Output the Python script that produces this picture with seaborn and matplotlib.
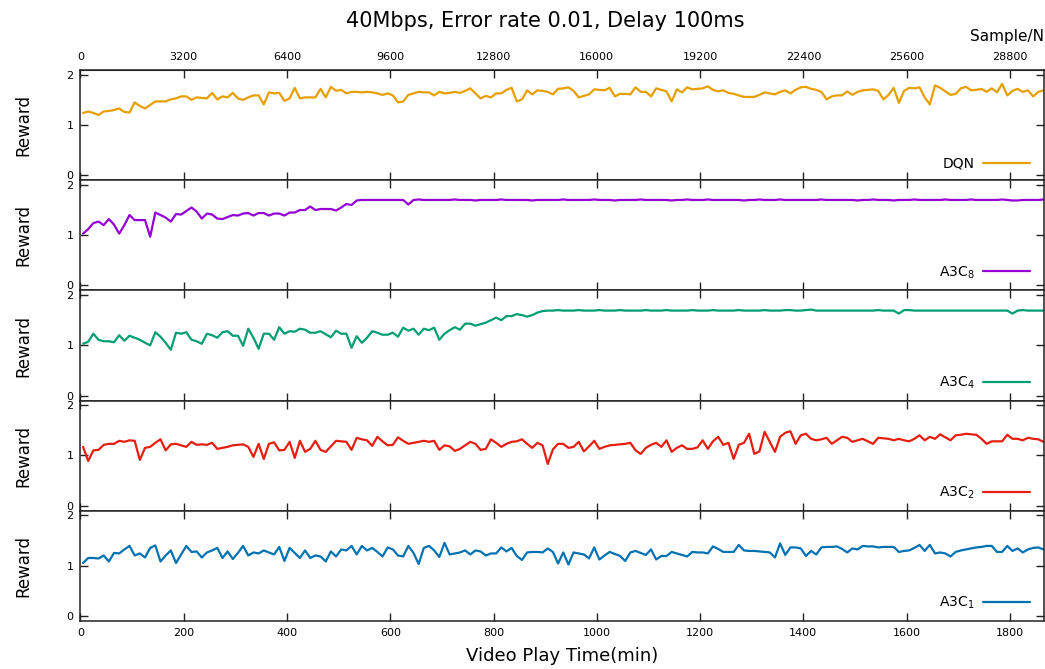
import numpy as np
import pandas as pd
import matplotlib
matplotlib.use("Agg")
import matplotlib.pyplot as plt
import seaborn as sns

# time axis (min), one sample every 10 min
minutes = np.arange(5, 1870, 10)

dqn = [
    1.24, 1.27, 1.24, 1.20, 1.27, 1.28, 1.30, 1.33, 1.26, 1.25,
    1.45, 1.38, 1.33, 1.40, 1.47, 1.47, 1.47, 1.51, 1.53, 1.57,
    1.57, 1.50, 1.55, 1.54, 1.53, 1.64, 1.51, 1.57, 1.55, 1.64,
    1.53, 1.50, 1.55, 1.59, 1.59, 1.41, 1.65, 1.63, 1.64, 1.48,
    1.53, 1.74, 1.53, 1.55, 1.55, 1.55, 1.72, 1.55, 1.76, 1.68,
    1.70, 1.63, 1.66, 1.66, 1.65, 1.66, 1.65, 1.63, 1.60, 1.63,
    1.59, 1.45, 1.47, 1.60, 1.63, 1.66, 1.65, 1.65, 1.59, 1.66,
    1.63, 1.64, 1.66, 1.64, 1.68, 1.73, 1.63, 1.53, 1.58, 1.55,
    1.63, 1.63, 1.70, 1.74, 1.47, 1.51, 1.69, 1.61, 1.69, 1.68,
    1.66, 1.61, 1.72, 1.73, 1.75, 1.68, 1.55, 1.58, 1.61, 1.71,
    1.70, 1.69, 1.74, 1.57, 1.62, 1.62, 1.61, 1.75, 1.66, 1.66,
    1.57, 1.73, 1.70, 1.67, 1.47, 1.71, 1.65, 1.75, 1.71, 1.72,
    1.73, 1.77, 1.70, 1.67, 1.69, 1.64, 1.62, 1.59, 1.56, 1.56,
    1.56, 1.60, 1.65, 1.63, 1.61, 1.66, 1.69, 1.63, 1.70, 1.75,
    1.76, 1.72, 1.70, 1.66, 1.51, 1.57, 1.59, 1.59, 1.67, 1.60,
    1.66, 1.69, 1.70, 1.71, 1.68, 1.51, 1.60, 1.74, 1.44, 1.68,
    1.74, 1.73, 1.75, 1.55, 1.41, 1.79, 1.74, 1.67, 1.60, 1.62,
    1.73, 1.76, 1.69, 1.70, 1.72, 1.66, 1.73, 1.65, 1.82, 1.59,
    1.68, 1.72, 1.66, 1.69, 1.57, 1.66, 1.69,
]

a3c8 = [
    1.03, 1.12, 1.24, 1.27, 1.20, 1.32, 1.21, 1.03, 1.20, 1.40,
    1.30, 1.30, 1.30, 0.97, 1.45, 1.40, 1.35, 1.27, 1.42, 1.41,
    1.48, 1.55, 1.47, 1.33, 1.43, 1.41, 1.33, 1.32, 1.36, 1.40,
    1.39, 1.43, 1.44, 1.39, 1.44, 1.44, 1.39, 1.43, 1.43, 1.39,
    1.45, 1.45, 1.50, 1.50, 1.57, 1.50, 1.52, 1.52, 1.52, 1.49,
    1.55, 1.62, 1.60, 1.69, 1.70, 1.70, 1.70, 1.70, 1.70, 1.70,
    1.70, 1.70, 1.70, 1.61, 1.70, 1.71, 1.70, 1.70, 1.70, 1.70,
    1.70, 1.70, 1.71, 1.70, 1.70, 1.70, 1.69, 1.70, 1.70, 1.70,
    1.70, 1.71, 1.70, 1.70, 1.70, 1.70, 1.70, 1.69, 1.70, 1.70,
    1.70, 1.70, 1.70, 1.71, 1.70, 1.70, 1.70, 1.70, 1.70, 1.71,
    1.70, 1.70, 1.70, 1.69, 1.70, 1.70, 1.70, 1.70, 1.71, 1.70,
    1.70, 1.70, 1.70, 1.70, 1.69, 1.70, 1.70, 1.71, 1.70, 1.70,
    1.70, 1.71, 1.70, 1.70, 1.70, 1.70, 1.70, 1.70, 1.69, 1.70,
    1.70, 1.71, 1.70, 1.70, 1.70, 1.71, 1.70, 1.70, 1.70, 1.70,
    1.70, 1.70, 1.70, 1.71, 1.70, 1.70, 1.70, 1.70, 1.70, 1.70,
    1.69, 1.70, 1.70, 1.71, 1.70, 1.70, 1.70, 1.69, 1.70, 1.70,
    1.70, 1.71, 1.70, 1.70, 1.70, 1.70, 1.70, 1.71, 1.70, 1.70,
    1.70, 1.70, 1.71, 1.70, 1.70, 1.70, 1.70, 1.70, 1.71, 1.70,
    1.69, 1.69, 1.70, 1.70, 1.70, 1.70, 1.71,
]

a3c4 = [
    1.03, 1.07, 1.23, 1.11, 1.08, 1.08, 1.06, 1.20, 1.09, 1.19,
    1.15, 1.11, 1.05, 1.00, 1.26, 1.17, 1.05, 0.91, 1.25, 1.23,
    1.26, 1.11, 1.08, 1.03, 1.23, 1.20, 1.15, 1.26, 1.28, 1.19,
    1.19, 0.99, 1.33, 1.15, 0.93, 1.23, 1.23, 1.11, 1.36, 1.23,
    1.28, 1.27, 1.33, 1.31, 1.25, 1.25, 1.28, 1.22, 1.16, 1.29,
    1.23, 1.23, 0.95, 1.18, 1.05, 1.15, 1.28, 1.25, 1.21, 1.21,
    1.25, 1.17, 1.35, 1.29, 1.33, 1.21, 1.33, 1.30, 1.35, 1.11,
    1.23, 1.30, 1.36, 1.31, 1.43, 1.43, 1.39, 1.42, 1.45, 1.50,
    1.55, 1.50, 1.58, 1.58, 1.62, 1.60, 1.57, 1.60, 1.65, 1.68,
    1.69, 1.69, 1.70, 1.69, 1.69, 1.69, 1.70, 1.69, 1.69, 1.69,
    1.70, 1.69, 1.69, 1.69, 1.70, 1.69, 1.69, 1.69, 1.69, 1.70,
    1.69, 1.69, 1.69, 1.70, 1.69, 1.69, 1.69, 1.69, 1.70, 1.69,
    1.69, 1.69, 1.70, 1.69, 1.69, 1.69, 1.69, 1.70, 1.69, 1.69,
    1.69, 1.69, 1.70, 1.69, 1.69, 1.69, 1.70, 1.70, 1.69, 1.69,
    1.70, 1.71, 1.69, 1.69, 1.69, 1.69, 1.69, 1.69, 1.69, 1.69,
    1.69, 1.69, 1.69, 1.69, 1.70, 1.69, 1.69, 1.69, 1.63, 1.70,
    1.70, 1.69, 1.69, 1.69, 1.69, 1.69, 1.69, 1.69, 1.69, 1.69,
    1.69, 1.69, 1.69, 1.69, 1.69, 1.69, 1.69, 1.69, 1.69, 1.69,
    1.63, 1.69, 1.70, 1.69, 1.69, 1.69, 1.69,
]

a3c2 = [
    1.17, 0.89, 1.10, 1.11, 1.21, 1.23, 1.23, 1.29, 1.27, 1.30,
    1.29, 0.91, 1.15, 1.17, 1.25, 1.32, 1.10, 1.22, 1.23, 1.20,
    1.17, 1.27, 1.21, 1.22, 1.21, 1.25, 1.13, 1.15, 1.17, 1.20,
    1.21, 1.22, 1.17, 0.97, 1.23, 0.93, 1.23, 1.26, 1.10, 1.11,
    1.27, 0.95, 1.29, 1.07, 1.13, 1.29, 1.11, 1.07, 1.18, 1.29,
    1.28, 1.27, 1.11, 1.35, 1.32, 1.30, 1.19, 1.37, 1.28, 1.20,
    1.21, 1.36, 1.29, 1.23, 1.25, 1.27, 1.29, 1.27, 1.29, 1.11,
    1.20, 1.18, 1.09, 1.13, 1.20, 1.27, 1.23, 1.11, 1.13, 1.32,
    1.25, 1.17, 1.23, 1.27, 1.28, 1.32, 1.23, 1.15, 1.25, 1.20,
    0.83, 1.12, 1.23, 1.23, 1.15, 1.17, 1.27, 1.08, 1.18, 1.29,
    1.13, 1.17, 1.20, 1.21, 1.22, 1.23, 1.25, 1.10, 1.03, 1.15,
    1.21, 1.25, 1.17, 1.30, 1.07, 1.15, 1.20, 1.13, 1.13, 1.16,
    1.30, 1.13, 1.28, 1.37, 1.21, 1.25, 0.93, 1.21, 1.25, 1.43,
    1.03, 1.08, 1.47, 1.27, 1.07, 1.37, 1.45, 1.48, 1.23, 1.40,
    1.43, 1.33, 1.30, 1.32, 1.35, 1.23, 1.30, 1.37, 1.35, 1.27,
    1.30, 1.33, 1.28, 1.23, 1.35, 1.34, 1.33, 1.30, 1.33, 1.30,
    1.28, 1.33, 1.40, 1.30, 1.37, 1.33, 1.42, 1.36, 1.30, 1.40,
    1.41, 1.43, 1.42, 1.41, 1.33, 1.23, 1.28, 1.28, 1.28, 1.41,
    1.33, 1.33, 1.30, 1.35, 1.33, 1.32, 1.27,
]

a3c1 = [
    1.05, 1.15, 1.15, 1.14, 1.20, 1.08, 1.25, 1.24, 1.32, 1.39,
    1.20, 1.24, 1.16, 1.35, 1.40, 1.08, 1.20, 1.30, 1.05, 1.22,
    1.39, 1.27, 1.28, 1.16, 1.26, 1.30, 1.35, 1.15, 1.28, 1.13,
    1.25, 1.39, 1.20, 1.26, 1.24, 1.30, 1.26, 1.22, 1.37, 1.09,
    1.35, 1.25, 1.15, 1.30, 1.15, 1.20, 1.18, 1.08, 1.28, 1.18,
    1.32, 1.30, 1.39, 1.22, 1.39, 1.30, 1.35, 1.27, 1.18, 1.36,
    1.32, 1.20, 1.18, 1.39, 1.25, 1.03, 1.35, 1.39, 1.30, 1.17,
    1.45, 1.22, 1.24, 1.26, 1.30, 1.22, 1.30, 1.28, 1.20, 1.24,
    1.24, 1.36, 1.28, 1.35, 1.19, 1.11, 1.26, 1.27, 1.27, 1.26,
    1.34, 1.27, 1.04, 1.26, 1.02, 1.26, 1.24, 1.22, 1.14, 1.36,
    1.12, 1.20, 1.27, 1.23, 1.19, 1.09, 1.26, 1.29, 1.25, 1.21,
    1.32, 1.12, 1.19, 1.19, 1.27, 1.24, 1.21, 1.18, 1.27, 1.26,
    1.26, 1.24, 1.38, 1.33, 1.27, 1.27, 1.27, 1.41, 1.30, 1.29,
    1.29, 1.28, 1.27, 1.26, 1.16, 1.44, 1.21, 1.36, 1.36, 1.34,
    1.19, 1.29, 1.22, 1.36, 1.37, 1.37, 1.38, 1.33, 1.26, 1.34,
    1.32, 1.39, 1.38, 1.38, 1.36, 1.37, 1.37, 1.37, 1.27, 1.29,
    1.30, 1.35, 1.41, 1.29, 1.41, 1.24, 1.26, 1.24, 1.18, 1.27,
    1.30, 1.32, 1.34, 1.36, 1.37, 1.39, 1.39, 1.27, 1.27, 1.39,
    1.29, 1.34, 1.26, 1.32, 1.35, 1.36, 1.32,
]

series = [
    ("DQN", dqn, "#e69f00"),
    ("A3C$_8$", a3c8, "#9400d3"),
    ("A3C$_4$", a3c4, "#009e73"),
    ("A3C$_2$", a3c2, "#e51e10"),
    ("A3C$_1$", a3c1, "#0072b2"),
]

sns.set_style("ticks")
plt.rcParams["font.family"] = ["DejaVu Sans"]
plt.rcParams["text.color"] = "black"
plt.rcParams["axes.labelcolor"] = "black"
plt.rcParams["xtick.color"] = "black"
plt.rcParams["ytick.color"] = "black"

fig, axes = plt.subplots(5, 1, sharex=True, figsize=(10.45, 6.69), dpi=100)
fig.subplots_adjust(left=0.077, right=0.999, top=0.895, bottom=0.072, hspace=0)

for ax, (name, vals, col) in zip(axes, series):
    df = pd.DataFrame({"t": minutes, "r": vals})
    sns.lineplot(data=df, x="t", y="r", ax=ax, color=col, lw=1.6, label=name)
    ax.set_xlim(0, 1866)
    ax.set_ylim(-0.1, 2.09)
    ax.set_yticks([0, 1, 2])
    ax.set_xticks(np.arange(0, 1801, 200))
    ax.tick_params(axis="both", direction="in", top=True, right=True,
                   length=6, width=1, labelsize=8, pad=5, color="#222222")
    for s in ax.spines.values():
        s.set_linewidth(1.1)
        s.set_color("#222222")
    ax.set_xlabel("")
    ax.set_ylabel("Reward", fontsize=12)
    ax.yaxis.set_label_coords(-0.05, 0.5)
    ax.legend(loc="lower right", frameon=False, markerfirst=False,
              fontsize=10, handlelength=3.4, handletextpad=0.6,
              borderaxespad=0.3, bbox_to_anchor=(0.996, 0.0))

axes[-1].set_xlabel("Video Play Time(min)", fontsize=13, labelpad=7)

# top axis: samples
top = axes[0].secondary_xaxis("top", functions=(lambda x: x * 16, lambda s: s / 16))
top.set_xticks(np.arange(0, 28801, 3200))
top.tick_params(length=0, labelsize=8, pad=6)
top.set_xlabel("Sample/N", fontsize=11, loc="right", labelpad=8)

fig.text(0.5215, 0.968, "40Mbps, Error rate 0.01, Delay 100ms",
         ha="center", va="center", fontsize=15)

plt.savefig("out.png", dpi=100)
